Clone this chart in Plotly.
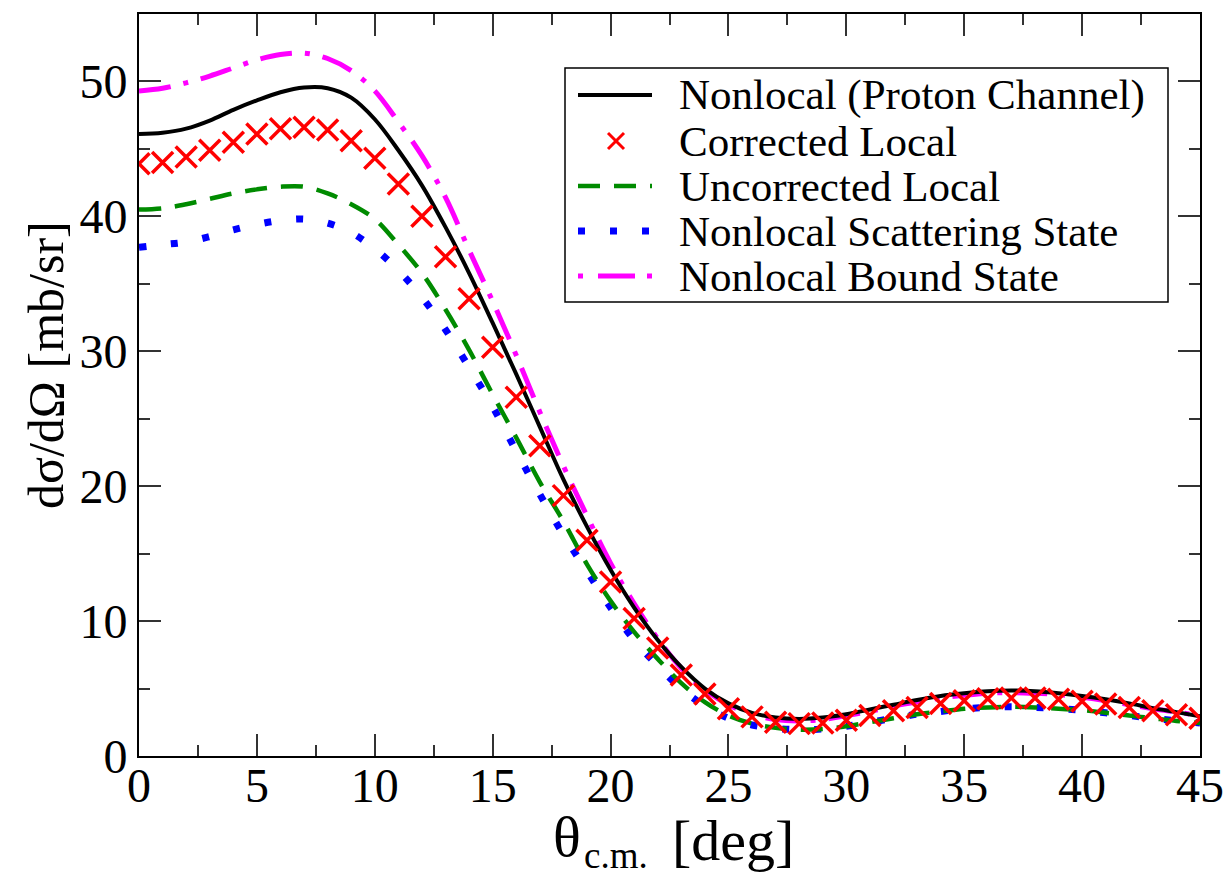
import plotly.graph_objects as go

# ---------------- data ----------------
theta = list(range(0, 46))

nonlocal_proton = [46.1, 46.2, 46.5, 47.1, 47.9, 48.6, 49.2, 49.55, 49.5, 48.8,
                   47.2, 44.9, 42.3, 39.2, 35.8, 32.1, 28.3, 24.4, 20.5, 17.0,
                   13.8, 11.0, 8.6, 6.6, 5.0, 3.9, 3.2, 2.85, 2.75, 2.85,
                   3.1, 3.45, 3.8, 4.15, 4.45, 4.65, 4.8, 4.85, 4.8, 4.65,
                   4.45, 4.2, 3.9, 3.55, 3.25, 2.95]

corrected_local = [43.9, 44.0, 44.4, 44.9, 45.5, 46.1, 46.5, 46.6, 46.4, 45.6,
                   44.3, 42.4, 40.0, 37.0, 33.9, 30.3, 26.6, 23.0, 19.3, 16.0,
                   12.9, 10.2, 8.0, 6.0, 4.6, 3.5, 2.9, 2.5, 2.4, 2.45,
                   2.65, 3.0, 3.35, 3.6, 3.9, 4.1, 4.25, 4.3, 4.3, 4.2,
                   4.05, 3.85, 3.6, 3.35, 3.05, 2.8]

uncorrected_local = [40.5, 40.6, 40.9, 41.3, 41.7, 42.0, 42.2, 42.2, 41.7, 40.9,
                     39.8, 37.9, 35.8, 33.1, 30.1, 26.8, 23.6, 20.3, 17.4, 14.2,
                     11.5, 9.2, 7.2, 5.4, 4.0, 3.0, 2.4, 2.1, 1.95, 2.0,
                     2.2, 2.5, 2.8, 3.1, 3.3, 3.5, 3.6, 3.65, 3.6, 3.5,
                     3.4, 3.2, 3.0, 2.8, 2.6, 2.45]

nonlocal_scattering = [37.7, 37.9, 38.1, 38.5, 39.0, 39.4, 39.7, 39.8, 39.5, 38.8,
                       37.6, 36.0, 34.0, 31.6, 28.8, 25.9, 22.6, 19.4, 16.4, 13.7,
                       11.0, 8.6, 6.7, 5.0, 3.7, 2.8, 2.3, 2.05, 1.95, 2.0,
                       2.2, 2.5, 2.8, 3.1, 3.3, 3.5, 3.6, 3.65, 3.6, 3.5,
                       3.4, 3.2, 3.0, 2.8, 2.6, 2.45]

nonlocal_bound = [49.3, 49.5, 49.9, 50.4, 51.0, 51.6, 52.0, 52.1, 51.7, 50.8,
                  49.3, 47.0, 44.5, 41.4, 37.5, 33.7, 29.7, 25.5, 21.5, 17.8,
                  14.3, 11.3, 8.7, 6.5, 4.9, 3.8, 3.1, 2.7, 2.6, 2.7,
                  3.0, 3.3, 3.7, 4.0, 4.3, 4.5, 4.65, 4.7, 4.65, 4.55,
                  4.35, 4.1, 3.8, 3.5, 3.25, 3.0]

x_ticks = [0, 5, 10, 15, 20, 25, 30, 35, 40, 45]
y_ticks = [0, 10, 20, 30, 40, 50]

legend_labels = ["Nonlocal (Proton Channel)", "Corrected Local", "Uncorrected Local",
                 "Nonlocal Scattering State", "Nonlocal Bound State"]

# ---------------- figure ----------------
W, H = 1229, 876
ML, MR, MT, MB = 139, 29, 14, 120
PW, PH = W - ML - MR, H - MT - MB
FONT = "Liberation Serif"

BLACK = "#000000"
RED = "#ff0000"
GREEN = "#008b00"
BLUE = "#0000ff"
MAGENTA = "#ff00ff"

DASH_GREEN = "22px,14px"
DASH_BLUE = "7px,25px"
DASH_MAG = "32px,13px,5px,13px"

fig = go.Figure()

fig.add_trace(go.Scatter(x=theta, y=nonlocal_bound, mode="lines", line_shape="spline",
                         line=dict(color=MAGENTA, width=5, dash=DASH_MAG), name=legend_labels[4]))
fig.add_trace(go.Scatter(x=theta, y=nonlocal_scattering, mode="lines", line_shape="spline",
                         line=dict(color=BLUE, width=7, dash=DASH_BLUE), name=legend_labels[3]))
fig.add_trace(go.Scatter(x=theta, y=uncorrected_local, mode="lines", line_shape="spline",
                         line=dict(color=GREEN, width=4.5, dash=DASH_GREEN), name=legend_labels[2]))
fig.add_trace(go.Scatter(x=theta, y=nonlocal_proton, mode="lines", line_shape="spline",
                         line=dict(color=BLACK, width=4), name=legend_labels[0]))
fig.add_trace(go.Scatter(x=theta, y=corrected_local, mode="markers",
                         marker=dict(symbol="x-thin", size=21, line=dict(color=RED, width=3.5)),
                         name=legend_labels[1]))


def px(xp, yp):
    """convert page pixel to paper coordinates"""
    return (xp - ML) / PW, (H - MB - yp) / PH


shapes = []
annotations = []

# legend box
bx0, by0 = px(565, 68)
bx1, by1 = px(1168, 302)
shapes.append(dict(type="rect", xref="paper", yref="paper", x0=bx0, y0=by1, x1=bx1, y1=by0,
                   line=dict(color="#000000", width=1.5), fillcolor="white", layer="above"))

rows_y = [95, 141, 186, 231, 276]
sx0, sx1 = 578, 652


def hline(y, color, width, dash=None):
    a = px(sx0, y)
    b = px(sx1, y)
    ln = dict(color=color, width=width)
    if dash:
        ln["dash"] = dash
    shapes.append(dict(type="line", xref="paper", yref="paper", x0=a[0], y0=a[1], x1=b[0], y1=b[1],
                       line=ln, layer="above"))


hline(rows_y[0], BLACK, 4)
# red cross
cx, cy, r = 616, rows_y[1], 8
for (p1, p2) in [((cx - r, cy - r), (cx + r, cy + r)), ((cx - r, cy + r), (cx + r, cy - r))]:
    a = px(*p1)
    b = px(*p2)
    shapes.append(dict(type="line", xref="paper", yref="paper", x0=a[0], y0=a[1], x1=b[0], y1=b[1],
                       line=dict(color=RED, width=3), layer="above"))
hline(rows_y[2], GREEN, 4.5, DASH_GREEN)
hline(rows_y[3], BLUE, 7, DASH_BLUE)
hline(rows_y[4], MAGENTA, 5, "5px,15px,37px,12px")

for lab, yy in zip(legend_labels, rows_y):
    tx, ty = px(677, yy)
    annotations.append(dict(text=lab, xref="paper", yref="paper", x=tx, y=ty,
                            xanchor="left", yanchor="middle", showarrow=False,
                            font=dict(family=FONT, size=43, color="black")))

# x axis title: θ, subscript c.m., [deg]
for txt, xp, yp, fs in [("θ", 551, 836, 58), ("c.m.", 582, 855, 37), ("[deg]", 670, 840, 58)]:
    tx, ty = px(xp, yp)
    annotations.append(dict(text=txt, xref="paper", yref="paper", x=tx, y=ty,
                            xanchor="left", yanchor="middle", showarrow=False,
                            font=dict(family=FONT, size=fs, color="black")))

tx, ty = px(46, 365)
annotations.append(dict(text="dσ/dΩ [mb/sr]", xref="paper", yref="paper", x=tx, y=ty,
                        xanchor="center", yanchor="middle", showarrow=False, textangle=-90,
                        font=dict(family=FONT, size=50, color="black")))

axis_common = dict(
    showgrid=False, zeroline=False, showline=True, linecolor="#000000", linewidth=2,
    ticks="inside", ticklen=22, tickwidth=2, tickcolor="#333333", mirror="allticks",
    tickfont=dict(family=FONT, size=48, color="black"), automargin=False,
)

fig.update_layout(
    width=W, height=H,
    margin=dict(l=ML, r=MR, t=MT, b=MB),
    paper_bgcolor="white", plot_bgcolor="white",
    showlegend=False,
    xaxis=dict(range=[0, 45], tickvals=x_ticks, ticklabelstandoff=-14,
               minor=dict(dtick=2.5, ticks="inside", ticklen=11, tickwidth=2, tickcolor="#333333"),
               **axis_common),
    yaxis=dict(range=[0, 55], tickvals=y_ticks,
               minor=dict(dtick=5, ticks="inside", ticklen=11, tickwidth=2, tickcolor="#333333"),
               **axis_common),
    shapes=shapes,
    annotations=annotations,
)

fig.write_html("out.html")
